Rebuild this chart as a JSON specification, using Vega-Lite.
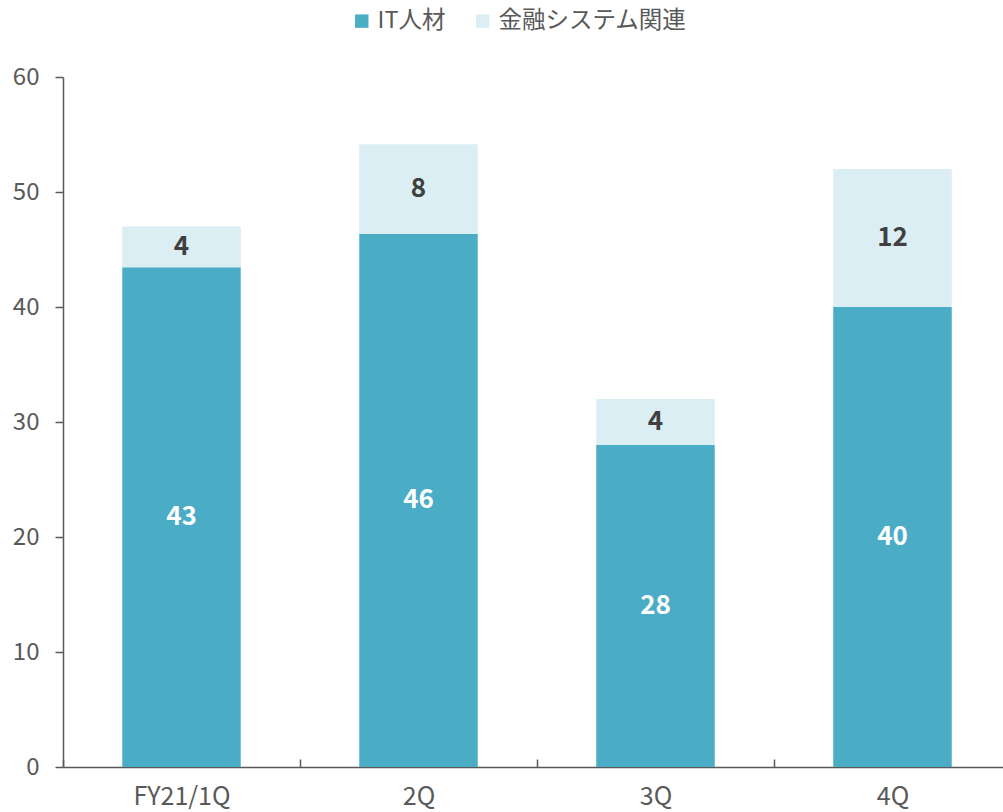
{
  "$schema": "https://vega.github.io/schema/vega-lite/v6.json",
  "width": 948,
  "height": 690,
  "autosize": "none",
  "padding": {"left": 63, "top": 77, "right": 0, "bottom": 45},
  "background": "white",
  "config": {
    "font": "Noto Sans CJK JP",
    "view": {"stroke": null}
  },
  "data": {
    "values": [
      {"q": "FY21/1Q", "cat": "IT人材", "order": 1, "value": 43.45},
      {"q": "FY21/1Q", "cat": "金融システム関連", "order": 2, "value": 3.55},
      {"q": "2Q", "cat": "IT人材", "order": 1, "value": 46.35},
      {"q": "2Q", "cat": "金融システム関連", "order": 2, "value": 7.8},
      {"q": "3Q", "cat": "IT人材", "order": 1, "value": 28},
      {"q": "3Q", "cat": "金融システム関連", "order": 2, "value": 4},
      {"q": "4Q", "cat": "IT人材", "order": 1, "value": 40},
      {"q": "4Q", "cat": "金融システム関連", "order": 2, "value": 12}
    ]
  },
  "transform": [
    {"stack": "value", "groupby": ["q"], "sort": [{"field": "order"}], "as": ["v0", "v1"]},
    {"calculate": "(datum.v0 + datum.v1) / 2", "as": "mid"}
  ],
  "encoding": {
    "x": {
      "field": "q",
      "type": "nominal",
      "sort": ["FY21/1Q", "2Q", "3Q", "4Q"],
      "scale": {"paddingInner": 0.5, "paddingOuter": 0.25},
      "axis": {
        "title": null,
        "labelAngle": 0,
        "labelFontSize": 25,
        "labelColor": "#595959",
        "labelPadding": 25,
        "labelOffset": 118.5,
        "domainColor": "#595959",
        "domainWidth": 1.5,
        "tickColor": "#595959",
        "tickOffset": -118.5,
        "tickSize": -8,
        "tickWidth": 1.5
      }
    }
  },
  "layer": [
    {
      "mark": {"type": "bar"},
      "encoding": {
        "y": {
          "field": "v0",
          "type": "quantitative",
          "scale": {"domain": [0, 60]},
          "axis": {
            "title": null,
            "values": [0, 10, 20, 30, 40, 50, 60],
            "grid": false,
            "labelFontSize": 24,
            "labelColor": "#595959",
            "labelPadding": 16,
            "domainColor": "#595959",
            "domainWidth": 1.5,
            "tickColor": "#595959",
            "tickSize": 8,
            "tickWidth": 1.5
          }
        },
        "y2": {"field": "v1"},
        "color": {
          "field": "cat",
          "type": "nominal",
          "scale": {"domain": ["IT人材", "金融システム関連"], "range": ["#4BACC6", "#DAEEF3"]},
          "legend": {
            "title": null,
            "orient": "none",
            "legendX": 287,
            "legendY": -68,
            "direction": "horizontal",
            "symbolType": "square",
            "symbolSize": 180,
            "symbolStrokeWidth": 0,
            "labelFontSize": 23.5,
            "labelLimit": 400,
            "labelColor": "#595959",
            "columnPadding": 25,
            "labelOffset": 4
          }
        }
      }
    },
    {
      "mark": {"type": "text", "fontSize": 26, "fontWeight": "bold", "baseline": "middle"},
      "encoding": {
        "y": {"field": "mid", "type": "quantitative"},
        "text": {"field": "value", "type": "quantitative", "format": ".0f"},
        "color": {
          "condition": {"test": "datum.order == 1", "value": "white"},
          "value": "#404040"
        }
      }
    }
  ]
}
